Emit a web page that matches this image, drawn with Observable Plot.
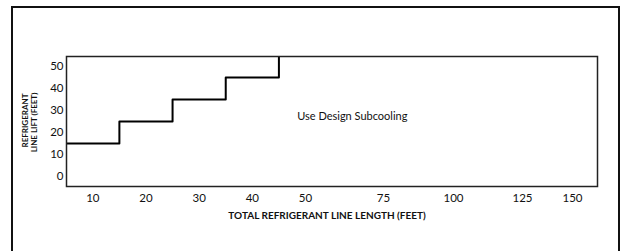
<!DOCTYPE html>
<html>
<head>
<meta charset="utf-8">
<script src="https://cdn.jsdelivr.net/npm/d3@7"></script>
<script src="https://cdn.jsdelivr.net/npm/@observablehq/plot@0.6"></script>
<style>
  html, body { margin: 0; padding: 0; background: #fff; }
  #wrap { position: relative; width: 621px; height: 251px; overflow: hidden; }
  #chart { position: absolute; left: 0; top: 0; }
  #border { position: absolute; left: 11px; top: 6px; width: 605px; height: 400px; border: 2px solid #111; pointer-events: none; }
</style>
</head>
<body>
<div id="wrap"><div id="chart"></div><div id="border"></div></div>
<script>
// Tick labels
const xTicks = [10, 20, 30, 40, 50, 75, 100, 125, 150];
const yTicks = [0, 10, 20, 30, 40, 50];
// Step boundary: total line length (feet) vs refrigerant line lift (feet)
const stepLength = [5, 15, 25, 35, 45];
const stepLift = [15, 25, 35, 45, 60];
// Annotation
const noteText = "Use Design Subcooling";
const noteLength = 65;
const noteLift = 27.5;
const xTitle = "TOTAL REFRIGERANT LINE LENGTH (FEET)";
const yTitle1 = "REFRIGERANT";
const yTitle2 = "LINE LIFT (FEET)";

const stepData = stepLength.map((x, i) => ({x, y: stepLift[i]}));

const chart = Plot.plot({
  width: 621,
  height: 251,
  marginLeft: 66,
  marginRight: 24,
  marginTop: 56,
  marginBottom: 65,
  style: {fontFamily: "Lato, sans-serif", fontSize: "11.5px", color: "#111", background: "transparent"},
  x: {
    type: "linear",
    domain: [5, 10, 50, 75, 100, 125, 150, 162],
    range: [66, 92.3, 305, 383, 453, 522, 572, 597],
    ticks: xTicks,
    tickSize: 0,
    tickPadding: 7,
    label: null
  },
  y: {
    domain: [-4.5, 54.6],
    ticks: yTicks,
    tickSize: 0,
    tickPadding: 3,
    label: null
  },
  marks: [
    Plot.line(stepData, {x: "x", y: "y", curve: "step-after", stroke: "#000", strokeWidth: 2, clip: true}),
    Plot.frame({stroke: "#222", strokeWidth: 1.5}),
    Plot.text([{x: noteLength, y: noteLift, t: noteText}], {x: "x", y: "y", text: "t", fontSize: 11, fill: "#111"}),
    Plot.text([xTitle], {frameAnchor: "bottom", textAnchor: "middle", dy: 32, dx: -5, fontWeight: "bold", fontSize: 10, fill: "#111"}),
    Plot.text([yTitle1], {frameAnchor: "left", textAnchor: "middle", lineAnchor: "middle", rotate: -90, dx: -41, dy: -1, fontWeight: "bold", fontSize: 8, fill: "#111"}),
    Plot.text([yTitle2], {frameAnchor: "left", textAnchor: "middle", lineAnchor: "middle", rotate: -90, dx: -32, dy: 1, fontWeight: "bold", fontSize: 8, fill: "#111"})
  ]
});
document.getElementById("chart").appendChild(chart);
</script>
</body>
</html>
